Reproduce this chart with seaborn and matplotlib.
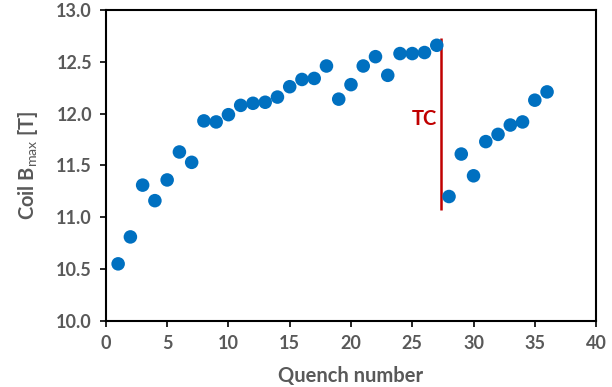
import numpy as np
import pandas as pd
import matplotlib
matplotlib.use("Agg")
import matplotlib.pyplot as plt
import seaborn as sns

# ---------- DATA ----------
quench = list(range(1, 37))
bmax = [10.55, 10.81, 11.31, 11.16, 11.36, 11.63, 11.53, 11.93, 11.92, 11.99,
        12.08, 12.10, 12.11, 12.16, 12.26, 12.33, 12.34, 12.46, 12.14, 12.28,
        12.46, 12.55, 12.37, 12.58, 12.58, 12.59, 12.66, 11.20, 11.61, 11.40,
        11.73, 11.80, 11.89, 11.92, 12.13, 12.21]
tc_x = 27.35
tc_span = [11.07, 12.73]

df = pd.DataFrame({"quench": quench, "bmax": bmax})

# ---------- STYLE ----------
sns.set_style("ticks")
plt.rcParams["font.family"] = ["Lato", "DejaVu Sans"]
plt.rcParams["mathtext.fontset"] = "custom"
plt.rcParams["mathtext.rm"] = "Lato"
gray = "#595959"

fig = plt.figure(figsize=(6.12, 3.87), dpi=100)
ax = fig.add_axes([0.173, 0.171, 0.801, 0.803])

sns.scatterplot(x="quench", y="bmax", data=df, ax=ax, color="#0070C0",
                s=95, edgecolor="none", zorder=3)
ax.vlines(tc_x, tc_span[0], tc_span[1], color="#C00000", lw=1.8, zorder=2)
ax.text(tc_x - 0.3, 11.95, "TC", color="#C00000", fontsize=14.5,
        fontweight="bold", ha="right", va="center")

ax.set_xlim(0, 40)
ax.set_ylim(10.0, 13.0)
ax.set_xticks(np.arange(0, 41, 5))
ax.set_yticks(np.arange(10.0, 13.01, 0.5))
ax.set_yticklabels([f"{v:.1f}" for v in np.arange(10.0, 13.01, 0.5)])
ax.set_xlabel("Quench number", fontsize=14.5, fontweight="bold", color=gray,
              labelpad=10)
ax.set_ylabel(r"Coil B$_{\rm max}$ [T]", fontsize=14.5, fontweight="bold",
              color=gray, labelpad=12)
ax.tick_params(axis="both", labelsize=13, colors="black", labelcolor=gray,
               width=1.2, length=4, pad=6)
for lbl in ax.get_xticklabels() + ax.get_yticklabels():
    lbl.set_fontweight("bold")
for sp in ax.spines.values():
    sp.set_visible(True)
    sp.set_linewidth(1.5)
    sp.set_color("black")

fig.savefig("out.png", dpi=100)
